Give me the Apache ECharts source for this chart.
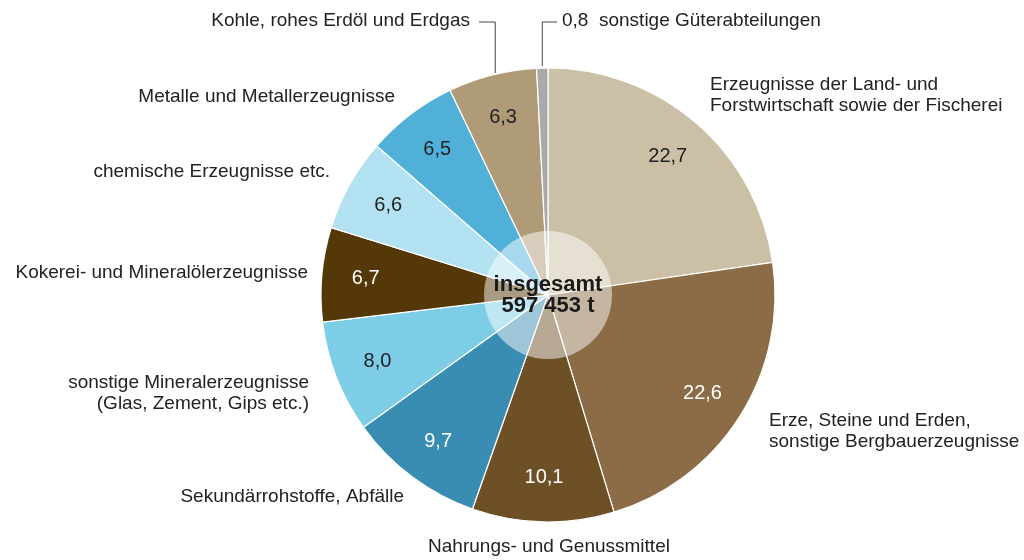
<!DOCTYPE html>
<html>
<head>
<meta charset="utf-8">
<script src="https://cdn.jsdelivr.net/npm/echarts@6/dist/echarts.min.js"></script>
<style>
html,body{margin:0;padding:0;background:#fff;}
#chart{width:1024px;height:560px;}
</style>
</head>
<body>
<div id="chart"></div>
<script>
// ---- data ----
const categories = [
  'Erzeugnisse der Land- und\nForstwirtschaft sowie der Fischerei',
  'Erze, Steine und Erden,\nsonstige Bergbauerzeugnisse',
  'Nahrungs- und Genussmittel',
  'Sekundärrohstoffe, Abfälle',
  'sonstige Mineralerzeugnisse\n(Glas, Zement, Gips etc.)',
  'Kokerei- und Mineralölerzeugnisse',
  'chemische Erzeugnisse etc.',
  'Metalle und Metallerzeugnisse',
  'Kohle, rohes Erdöl und Erdgas',
  'sonstige Güterabteilungen'
];
const values = [22.7, 22.6, 10.1, 9.7, 8.0, 6.7, 6.6, 6.5, 6.3, 0.8];
const totalTons = 597453;
const totalLabel = 'insgesamt';

// ---- styles ----
const colors = ['#cbc0a5', '#8b6c46', '#6e5026', '#3a8db2', '#7ecde7', '#553807', '#b2e1f2', '#50b0d8', '#b09b79', '#aaaaaa'];
const valueTextColors = ['#222', '#fff', '#fff', '#fff', '#222', '#fff', '#222', '#222', '#222', '#222'];
const CX = 548, CY = 295, R = 227;
const FONT = 'Liberation Sans';
// label anchor offsets relative to pie centre: [dx, dy, align]
const nameAnchor = [
  [162, -200, 'left'],
  [221, 136, 'left'],
  [1, 252, 'center'],
  [-144, 202, 'right'],
  [-239, 98, 'right'],
  [-240, -22, 'right'],
  [-218, -123, 'right'],
  [-153, -198, 'right'],
  [-78, -274, 'right'],
  [14, -274, 'left']
];
const leaderIdx = [8, 9];

const fmt = v => v.toFixed(1).replace('.', ',');
const fmtTotal = n => String(n).replace(/\B(?=(\d{3})+(?!\d))/g, ' ') + ' t';
const sum = values.reduce((a, b) => a + b, 0);
const midAngles = [];
{ let acc = 0; values.forEach(v => { midAngles.push((acc + v / 2) / sum * 2 * Math.PI); acc += v; }); }

const chart = echarts.init(document.getElementById('chart'), null, {renderer: 'canvas'});

const mainData = values.map((v, i) => ({
  value: v, name: categories[i],
  itemStyle: {color: colors[i]},
  labelLine: {show: leaderIdx.indexOf(i) >= 0}
}));

const valueData = values.map((v, i) => ({
  value: v, name: categories[i],
  itemStyle: {color: 'rgba(0,0,0,0)'},
  label: {show: i !== 9, color: valueTextColors[i]}
}));

chart.setOption({
  animation: false,
  backgroundColor: '#fff',
  series: [
    {
      type: 'pie',
      center: [CX, CY],
      radius: [0, R],
      startAngle: 90,
      clockwise: true,
      silent: true,
      avoidLabelOverlap: false,
      itemStyle: {borderColor: '#fff', borderWidth: 1.2},
      label: {
        show: true,
        position: 'outside',
        fontFamily: FONT,
        fontSize: 19,
        lineHeight: 21,
        color: '#222',
        formatter: p => p.dataIndex === 9 ? fmt(p.value) + '  ' + p.name : p.name
      },
      labelLine: {show: false, lineStyle: {color: '#444', width: 1}, smooth: false},
      labelLayout: function (p) {
        const i = p.dataIndex;
        const a = nameAnchor[i];
        const res = {x: CX + a[0], y: CY + a[1], align: a[2], verticalAlign: 'middle'};
        if (leaderIdx.indexOf(i) >= 0) {
          const m = midAngles[i];
          const sx = CX + R * Math.sin(m) + (i === 8 ? 3 : 0), sy = CY - R * Math.cos(m) - 2;
          const ly = CY + a[1] + 1;
          const ex = a[2] === 'right' ? CX + a[0] + 9 : CX + a[0] - 5;
          res.labelLinePoints = [[sx, sy], [sx, ly], [ex, ly]];
        }
        return res;
      },
      data: mainData
    },
    {
      type: 'pie',
      center: [CX, CY],
      radius: [133, R],
      startAngle: 90,
      clockwise: true,
      silent: true,
      avoidLabelOverlap: false,
      itemStyle: {borderWidth: 0},
      label: {
        show: true,
        position: 'inside',
        fontFamily: FONT,
        fontSize: 20,
        formatter: p => fmt(p.value)
      },
      labelLine: {show: false},
      data: valueData
    },
    {
      type: 'pie',
      center: [CX, CY],
      radius: [0, 64],
      silent: true,
      itemStyle: {color: 'rgba(255,255,255,0.5)', borderWidth: 0},
      label: {
        show: true,
        position: 'center',
        fontFamily: FONT,
        fontWeight: 'bold',
        fontSize: 22,
        lineHeight: 21,
        color: '#1a1a1a',
        formatter: () => totalLabel + '\n' + fmtTotal(totalTons)
      },
      labelLine: {show: false},
      data: [{value: 1, name: totalLabel}]
    }
  ]
});
</script>
</body>
</html>
